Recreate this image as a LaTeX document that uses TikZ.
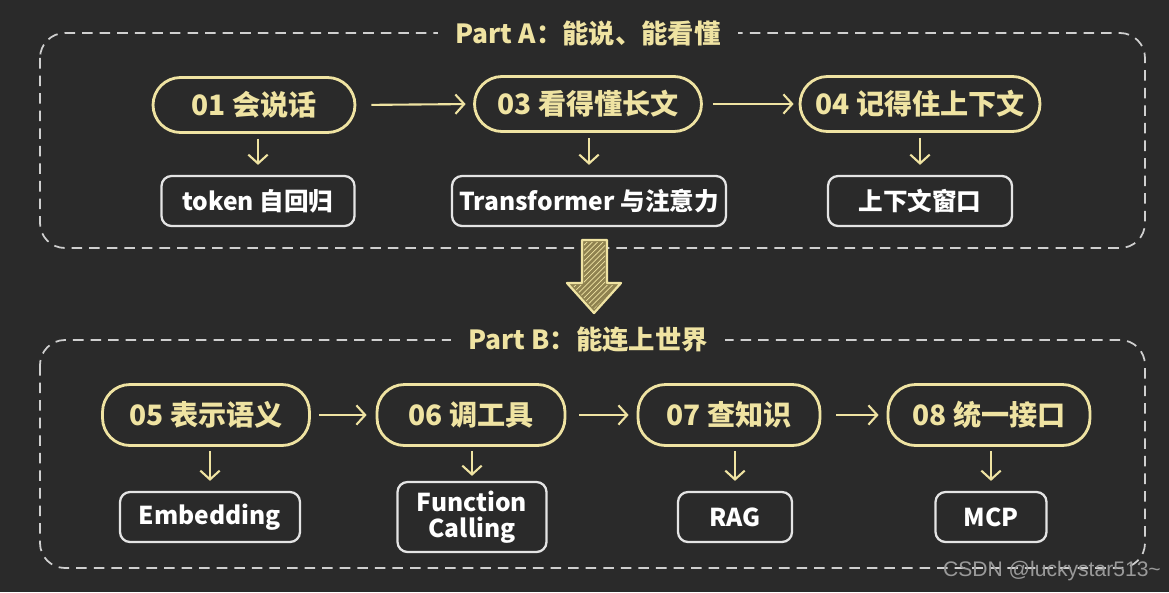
\documentclass[tikz,border=0pt]{standalone}
\usepackage{fontspec}
\newfontfamily\cjk{Noto Sans CJK SC}
\newfontfamily\markfont{Liberation Sans}
\usetikzlibrary{arrows.meta,patterns}

\definecolor{board}{HTML}{2A2A2A}
\definecolor{chalkyellow}{HTML}{EFE3A2}
\definecolor{chalkwhite}{HTML}{E4E4E4}
\definecolor{dashgray}{HTML}{CFCFCF}
\definecolor{arrowfill}{HTML}{8F8250}

\tikzset{
  pill/.style={draw=chalkyellow, line width=1.6pt, rounded corners=0.55cm,
    minimum height=1.1cm, text=chalkyellow,
    font=\cjk\bfseries\fontsize{16}{19}\selectfont},
  card/.style={draw=chalkwhite, line width=1.3pt, rounded corners=0.2cm,
    minimum height=1cm, text=white, align=center,
    font=\cjk\bfseries\fontsize{14}{15}\selectfont},
  flow/.style={draw=chalkyellow, line width=1.2pt,
    -{Straight Barb[length=5pt,width=11pt]}},
  part/.style={dashed, draw=dashgray, line width=1pt, rounded corners=0.5cm,
    dash pattern=on 6pt off 4pt},
  parttitle/.style={fill=board, text=chalkyellow, inner xsep=10pt,
    font=\cjk\bfseries\fontsize{15}{18}\selectfont},
}

\begin{document}
\begin{tikzpicture}[x=0.02cm, y=-0.02cm]
  %% 黑板
  \fill[board] (0, 0) rectangle (1169, 592);

  %% Part A
  \draw[part] (40, 33) rectangle (1145, 248);
  \node[parttitle] (ta) at (588, 33) {Part A：能说、能看懂};

  \node[pill, minimum width=4.04cm] (p01) at (254, 105) {01 会说话};
  \node[pill, minimum width=4.54cm] (p03) at (588, 104) {03 看得懂长文};
  \node[pill, minimum width=4.80cm] (p04) at (920, 104) {04 记得住上下文};

  \node[card, minimum width=3.86cm] (c01) at (258, 201) {token 自回归};
  \node[card, minimum width=5.48cm] (c03) at (589, 201) {Transformer 与注意力};
  \node[card, minimum width=3.68cm] (c04) at (920, 201) {上下文窗口};

  \draw[flow, shorten <=0.3cm, shorten >=0.15cm] (p01.east) -- (p03.west);
  \draw[flow, shorten <=0.2cm, shorten >=0.1cm] (p03.east) -- (p04.west);
  \draw[flow, shorten <=0.1cm, shorten >=0.2cm] (c01.north |- p01.south) -- (c01.north);
  \draw[flow, shorten <=0.1cm, shorten >=0.2cm] (c03.north |- p03.south) -- (c03.north);
  \draw[flow, shorten <=0.1cm, shorten >=0.2cm] (c04.north |- p04.south) -- (c04.north);

  %% 大箭头
  \filldraw[fill=arrowfill, draw=chalkyellow, line width=1.3pt, line join=round]
    (582, 240) -- (607, 240) -- (607, 283) -- (621, 283) -- (594, 313)
    -- (567, 283) -- (582, 283) -- cycle;
  \fill[pattern=north east lines, pattern color=chalkyellow]
    (584, 242) -- (605, 242) -- (605, 285) -- (616, 285) -- (594, 309)
    -- (572, 285) -- (584, 285) -- cycle;

  %% Part B
  \draw[part] (40, 340) rectangle (1145, 568);
  \node[parttitle] (tb) at (588, 340) {Part B：能连上世界};

  \node[pill, minimum width=4.14cm, minimum height=1.22cm] (p05) at (206, 415) {05 表示语义};
  \node[pill, minimum width=3.76cm, minimum height=1.22cm] (p06) at (471, 415) {06 调工具};
  \node[pill, minimum width=3.64cm, minimum height=1.22cm] (p07) at (729, 415) {07 查知识};
  \node[pill, minimum width=4.04cm, minimum height=1.22cm] (p08) at (989, 415) {08 统一接口};

  \node[card, minimum width=3.60cm] (c05) at (210, 517) {Embedding};
  \node[card, minimum width=2.98cm, minimum height=1.4cm] (c06) at (472, 517) {Function\\Calling};
  \node[card, minimum width=2.28cm] (c07) at (735, 517) {RAG};
  \node[card, minimum width=2.22cm] (c08) at (991, 517) {MCP};

  \draw[flow, shorten <=0.16cm, shorten >=0.18cm] (p05.east) -- (p06.west);
  \draw[flow, shorten <=0.26cm, shorten >=0.16cm] (p06.east) -- (p07.west);
  \draw[flow, shorten <=0.3cm, shorten >=0.16cm] (p07.east) -- (p08.west);
  \draw[flow, shorten <=0.08cm, shorten >=0.2cm] (c05.north |- p05.south) -- (c05.north);
  \draw[flow, shorten <=0.08cm, shorten >=0.1cm] (c06.north |- p06.south) -- (c06.north);
  \draw[flow, shorten <=0.08cm, shorten >=0.2cm] (c07.north |- p07.south) -- (c07.north);
  \draw[flow, shorten <=0.08cm, shorten >=0.2cm] (c08.north |- p08.south) -- (c08.north);

  %% 水印
  \node[text=gray!80, font=\markfont\fontsize{12}{14}\selectfont] (wm) at (1052, 571)
    {CSDN @luckystar513\textasciitilde};
\end{tikzpicture}
\end{document}
